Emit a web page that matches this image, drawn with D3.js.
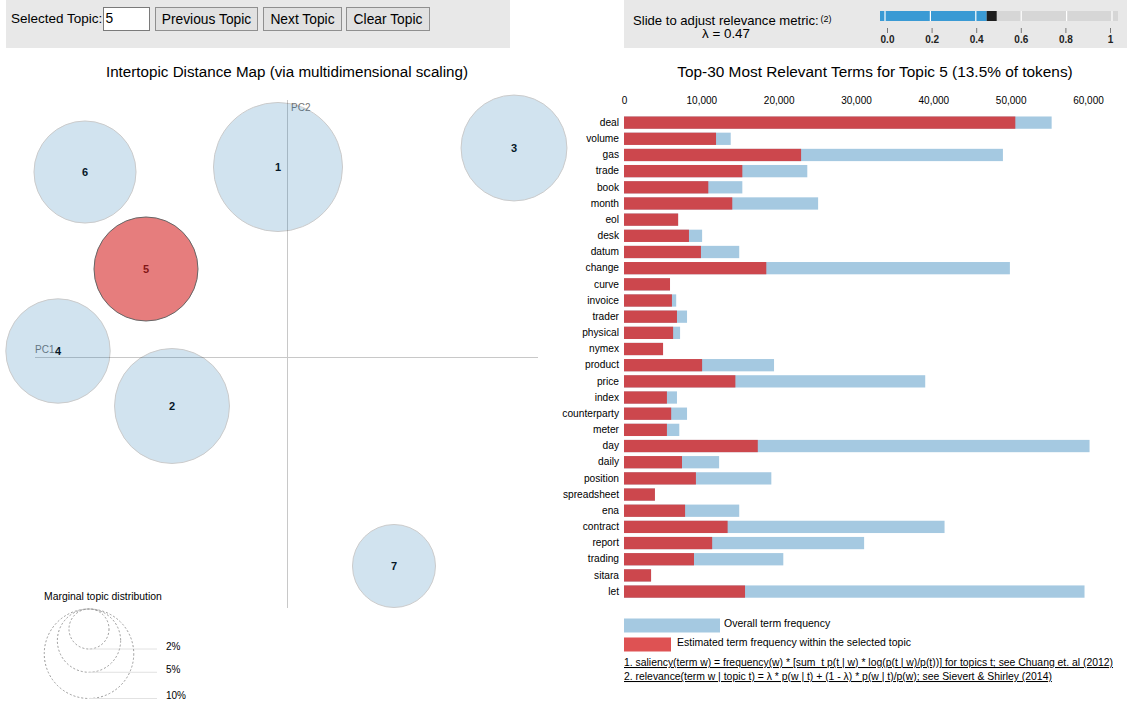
<!DOCTYPE html>
<html>
<head>
<meta charset="utf-8">
<script src="https://cdn.jsdelivr.net/npm/d3@7/dist/d3.min.js"></script>
<style>
  html, body { margin: 0; padding: 0; background: #fff; }
  svg { display: block; font-family: "Liberation Sans", Arial, sans-serif; }
</style>
</head>
<body>
<svg id="chart" width="1133" height="707"></svg>
<script>
// ---------------- DATA ----------------
const topicIds   = [1, 2, 3, 4, 5, 6, 7];
const topicPC1   = [-0.009, -0.115, 0.227, -0.229, -0.141, -0.202, 0.107];
const topicPC2   = [0.190, -0.049, 0.209, 0.006, 0.088, 0.185, -0.209];
const topicFreq  = [20.8, 16.5, 14.0, 13.6, 13.5, 13.0, 8.6];   // % of tokens
const selectedTopic = 5;
const lambdaValue = 0.47;

const terms = ["deal","volume","gas","trade","book","month","eol","desk","datum","change",
  "curve","invoice","trader","physical","nymex","product","price","index","counterparty","meter",
  "day","daily","position","spreadsheet","ena","contract","report","trading","sitara","let"];
const termTotal = [55300, 13800, 49000, 23700, 15300, 25100, 7000, 10100, 14900, 49900,
  5950, 6750, 8150, 7250, 5050, 19400, 38950, 6850, 8150, 7150,
  60200, 12300, 19050, 4000, 14900, 41450, 31050, 20600, 3500, 59550];
const termTopic = [50600, 11900, 22900, 15300, 10900, 14000, 7000, 8400, 9950, 18400,
  5950, 6200, 6850, 6350, 5050, 10100, 14400, 5550, 6100, 5550,
  17300, 7500, 9300, 4000, 7900, 13400, 11400, 9050, 3500, 15650];
const barTicks = [0, 10000, 20000, 30000, 40000, 50000, 60000];
const sliderTicks = [0, 0.2, 0.4, 0.6, 0.8, 1];
const sliderTickLabels = ["0.0", "0.2", "0.4", "0.6", "0.8", "1"];
const legendPercents = [2, 5, 10];

// ---------------- COLORS ----------------
const baseColor = "#1f77b4";
const highlightColor = "#d62728";

const svg = d3.select("#chart");
svg.append("rect").attr("width", 1133).attr("height", 707).attr("fill", "#fff");

// ---------------- TOP CONTROLS ----------------
const ctrl = svg.append("g");
ctrl.append("rect").attr("x", 6).attr("y", 0).attr("width", 504).attr("height", 48).attr("fill", "#e8e8e8");
ctrl.append("text").attr("x", 11).attr("y", 23).attr("font-size", 13.5).attr("fill", "#000").text("Selected Topic:");
ctrl.append("rect").attr("x", 103.5).attr("y", 7.5).attr("width", 46).attr("height", 23)
  .attr("fill", "#fff").attr("stroke", "#7a7a7a");
ctrl.append("text").attr("x", 105.5).attr("y", 23).attr("font-size", 13.8).text(String(selectedTopic));
const buttons = [
  {label: "Previous Topic", x: 155.5, w: 102},
  {label: "Next Topic", x: 263.5, w: 78},
  {label: "Clear Topic", x: 346.5, w: 83}
];
buttons.forEach(b => {
  ctrl.append("rect").attr("x", b.x).attr("y", 7.5).attr("width", b.w).attr("height", 23)
    .attr("fill", "#e1e1e1").attr("stroke", "#8f8f8f");
  ctrl.append("text").attr("x", b.x + b.w / 2).attr("y", 23.5).attr("text-anchor", "middle")
    .attr("font-size", 13.8).text(b.label);
});

ctrl.append("rect").attr("x", 624).attr("y", 0).attr("width", 503).attr("height", 48).attr("fill", "#e8e8e8");
const slideText = ctrl.append("text").attr("x", 633).attr("y", 25).attr("font-size", 13.1).text("Slide to adjust relevance metric:");
const slideEnd = 633 + slideText.node().getComputedTextLength();
ctrl.append("text").attr("x", slideEnd + 2).attr("y", 22).attr("font-size", 9).text("(2)");
ctrl.append("text").attr("x", 726).attr("y", 38).attr("text-anchor", "middle").attr("font-size", 13.4)
  .text("\u03bb = " + lambdaValue.toFixed(2));

const sx = d3.scaleLinear().domain([0, 1]).range([885, 1112]);
ctrl.append("rect").attr("x", 880).attr("y", 11).attr("width", 238).attr("height", 10).attr("fill", "#d6d6d6");
ctrl.append("rect").attr("x", 880).attr("y", 11).attr("width", sx(lambdaValue) - 5 - 880).attr("height", 10).attr("fill", "#3a9ad4");
ctrl.selectAll(".stick").data(sliderTicks).join("line")
  .attr("x1", d => sx(d)).attr("x2", d => sx(d)).attr("y1", 11).attr("y2", 21)
  .attr("stroke", "#fff").attr("stroke-width", 1.2);
ctrl.append("rect").attr("x", sx(lambdaValue) - 5).attr("y", 11).attr("width", 10).attr("height", 10).attr("fill", "#1e1e1e");

const sAxisScale = d3.scaleLinear().domain([0, 1]).range([887, 1110]);
const sAxis = d3.axisBottom(sAxisScale).tickValues(sliderTicks).tickSize(5).tickPadding(3)
  .tickFormat((d, i) => sliderTickLabels[i]);
const sAxisG = ctrl.append("g").attr("transform", "translate(0,28)").call(sAxis);
sAxisG.select(".domain").remove();
sAxisG.selectAll("line").attr("stroke", "#777");
sAxisG.selectAll("text").attr("font-size", 10).attr("font-weight", "bold").attr("fill", "#222")
  .attr("font-family", "Liberation Sans, Arial, sans-serif");

// ---------------- MDS PLOT ----------------
const xScale = d3.scaleLinear().domain([-0.3, 0.3]).range([-13, 587]);
const yScale = d3.scaleLinear().domain([-0.3, 0.3]).range([657, 57]);
const rScale = d3.scaleSqrt().domain([0, 100]).range([0, 141.5]);

svg.append("text").attr("x", xScale(0)).attr("y", 77).attr("text-anchor", "middle")
  .attr("font-size", 15.2).text("Intertopic Distance Map (via multidimensional scaling)");

const mds = svg.append("g");
mds.append("line").attr("x1", xScale(-0.252)).attr("x2", xScale(0.251))
  .attr("y1", yScale(0) + 0.5).attr("y2", yScale(0) + 0.5).attr("stroke", "#c8c8c8");
mds.append("line").attr("x1", xScale(0) + 0.5).attr("x2", xScale(0) + 0.5)
  .attr("y1", yScale(0.257)).attr("y2", yScale(-0.251)).attr("stroke", "#c8c8c8");
mds.append("text").attr("x", xScale(0) + 4).attr("y", yScale(0.257) + 11).attr("font-size", 10).attr("fill", "#777").text("PC2");
mds.append("text").attr("x", xScale(-0.252)).attr("y", yScale(0) - 4).attr("font-size", 10).attr("fill", "#777").text("PC1");

const topics = topicIds.map((id, i) => ({id, x: topicPC1[i], y: topicPC2[i], f: topicFreq[i]}));
// labels first (circles drawn over them, as in LDAvis)
mds.selectAll(".tlabel").data(topics).join("text")
  .attr("x", d => xScale(d.x)).attr("y", d => yScale(d.y)).attr("dy", "0.35em")
  .attr("text-anchor", "middle").attr("font-size", 11).attr("font-weight", "bold").attr("fill", "#000")
  .text(d => d.id);
mds.selectAll(".dot").data(topics).join("circle")
  .attr("cx", d => xScale(d.x)).attr("cy", d => yScale(d.y)).attr("r", d => rScale(d.f))
  .attr("fill", d => d.id === selectedTopic ? highlightColor : baseColor)
  .attr("stroke", "#000")
  .attr("opacity", d => d.id === selectedTopic ? 0.6 : 0.2);

// marginal topic distribution legend
const leg = svg.append("g");
leg.append("text").attr("x", 44).attr("y", 600).attr("font-size", 10.4).text("Marginal topic distribution");
const legTop = 609, legCx = 89;
legendPercents.forEach(p => {
  const r = rScale(p);
  leg.append("circle").attr("cx", legCx).attr("cy", legTop + r).attr("r", r)
    .attr("fill", "none").attr("stroke", "#9a9a9a").attr("stroke-dasharray", "2 2");
  leg.append("line").attr("x1", legCx).attr("x2", 157).attr("y1", legTop + 2 * r).attr("y2", legTop + 2 * r)
    .attr("stroke", "#e2e2e2");
  leg.append("text").attr("x", 166).attr("y", legTop + 2 * r + 0.5).attr("font-size", 10).text(p + "%");
});

// ---------------- BAR CHART ----------------
const bx = d3.scaleLinear().domain([0, 60000]).range([624, 1088]);
const by = d3.scaleBand().domain(terms).range([112.6, 601.6]).paddingInner(0.24).paddingOuter(0.24);

svg.append("text").attr("x", 875).attr("y", 77).attr("text-anchor", "middle").attr("font-size", 15.4)
  .text("Top-30 Most Relevant Terms for Topic " + selectedTopic + " (13.5% of tokens)");

const bars = svg.append("g");
const rows = terms.map((t, i) => ({t, total: termTotal[i], topic: termTopic[i]}));
bars.selectAll(".total").data(rows).join("rect")
  .attr("x", bx(0)).attr("y", d => by(d.t)).attr("width", d => bx(d.total) - bx(0)).attr("height", by.bandwidth())
  .attr("fill", baseColor).attr("opacity", 0.4);
bars.selectAll(".overlay").data(rows).join("rect")
  .attr("x", bx(0)).attr("y", d => by(d.t)).attr("width", d => bx(d.topic) - bx(0)).attr("height", by.bandwidth())
  .attr("fill", highlightColor).attr("opacity", 0.8);

const xAxisG = svg.append("g").attr("transform", "translate(0,104)")
  .call(d3.axisTop(bx).tickValues(barTicks).tickSize(0).tickPadding(0).tickFormat(d3.format(",")));
xAxisG.select(".domain").remove();
xAxisG.selectAll("text").attr("font-size", 10).attr("fill", "#000").attr("font-family", "Liberation Sans, Arial, sans-serif");

const yAxisG = svg.append("g").attr("transform", "translate(624,0)")
  .call(d3.axisLeft(by).tickSize(0).tickPadding(5));
yAxisG.select(".domain").remove();
yAxisG.selectAll("text").attr("font-size", 10.2).attr("fill", "#000").attr("font-family", "Liberation Sans, Arial, sans-serif");

// bar legend
const bl = svg.append("g");
bl.append("rect").attr("x", 624).attr("y", 618.5).attr("width", 96).attr("height", 14).attr("fill", baseColor).attr("opacity", 0.4);
bl.append("text").attr("x", 724).attr("y", 627).attr("font-size", 10.5).text("Overall term frequency");
bl.append("rect").attr("x", 624).attr("y", 637.5).attr("width", 47).attr("height", 14).attr("fill", highlightColor).attr("opacity", 0.8);
bl.append("text").attr("x", 677).attr("y", 645.5).attr("font-size", 10.5).text("Estimated term frequency within the selected topic");
bl.append("text").attr("x", 624).attr("y", 666).attr("font-size", 10.4).attr("text-decoration", "underline")
  .text("1. saliency(term w) = frequency(w) * [sum_t p(t | w) * log(p(t | w)/p(t))] for topics t; see Chuang et. al (2012)");
bl.append("text").attr("x", 624).attr("y", 680).attr("font-size", 10.4).attr("text-decoration", "underline")
  .text("2. relevance(term w | topic t) = \u03bb * p(w | t) + (1 - \u03bb) * p(w | t)/p(w); see Sievert & Shirley (2014)");
</script>
</body>
</html>
